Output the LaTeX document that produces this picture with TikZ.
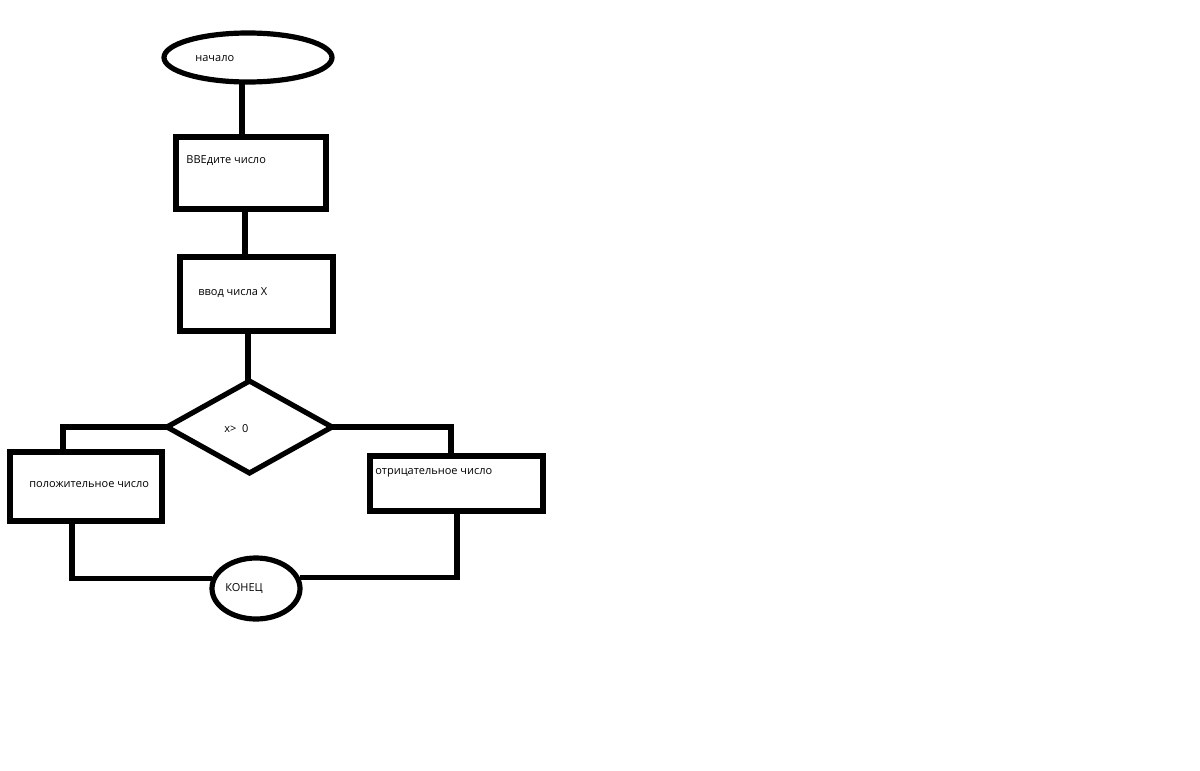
\documentclass[tikz,border=0pt]{standalone}
\usepackage{fontspec}
\setmainfont{Open Sans}
\usetikzlibrary{shapes.geometric,calc}
\begin{document}
\begin{tikzpicture}[x=0.5pt,y=-0.5pt,
  shp/.style={draw=black,line width=2.6pt,inner sep=0pt,outer sep=0pt,fill=white},
  box/.style={shp,rectangle},
  oval/.style={shp,ellipse},
  dia/.style={shp,diamond},
  txt/.style={anchor=west,inner sep=0pt,font=\fontsize{5.5pt}{6.6pt}\selectfont},
  con/.style={draw=black,line width=2.6pt}]
\useasboundingbox[fill=white] (0,0) rectangle (1200,771);
% shapes
\node[oval,minimum width=84pt,minimum height=24.5pt] (start) at (248,57.5) {};
\node[box,minimum width=75pt,minimum height=36pt] (r1) at (251,173) {};
\node[box,minimum width=76.5pt,minimum height=37pt] (r2) at (256.5,294) {};
\node[dia,minimum width=82.5pt,minimum height=46pt] (d) at (249.5,427) {};
\node[box,minimum width=76pt,minimum height=34.5pt] (r3) at (86,486.5) {};
\node[box,minimum width=86.5pt,minimum height=27.5pt] (r4) at (456.5,483.5) {};
\node[oval,minimum width=44pt,minimum height=30.5pt] (end) at (256,588.5) {};
% texts
\node[txt] (t1) at (195,59) {начало};
\node[txt] (t2) at (186,161) {ВВЕдите число};
\node[txt] (t3) at (198,293) {ввод числа X};
\node[txt] (t4) at (224,429) {x>\ \ 0};
\node[txt] (t5) at (29,485) {положительное число};
\node[txt] (t6) at (375,473) {отрицательное число};
\node[txt] (t7) at (225,589) {КОНЕЦ};
% connectors
\draw[con] ($(start.south)+(-6,0)$) -- ($(r1.north)+(-9,0)$);
\draw[con] ($(r1.south)+(-6,0)$) -- ($(r2.north)+(-11.5,0)$);
\draw[con] ($(r2.south)+(-8.5,0)$) -- ($(d.north)+(-1.5,0)$);
\draw[con] (d.west) -| ($(r3.north)+(-23,0)$);
\draw[con] (d.east) -| ($(r4.north)+(-5.5,0)$);
\draw[con] ($(r3.south)+(-14,0)$) |- ($(end.west)+(0,-10)$);
\draw[con] ($(r4.south)+(0.5,0)$) |- ($(end.east)+(0,-11)$);
\end{tikzpicture}
\end{document}
